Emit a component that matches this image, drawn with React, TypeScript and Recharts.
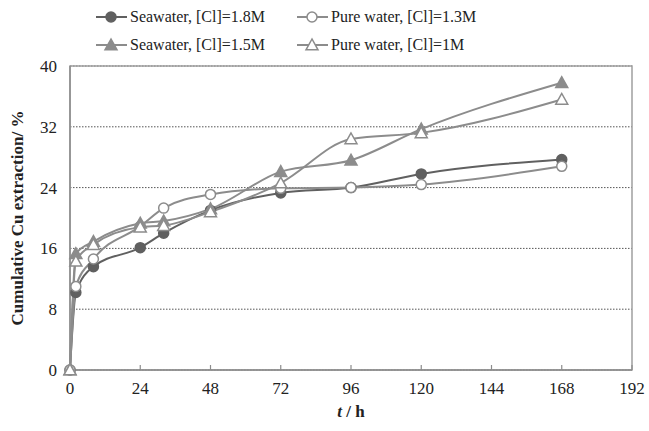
import React from "react";
import {
  LineChart,
  Line,
  XAxis,
  YAxis,
  CartesianGrid,
  ReferenceArea,
} from "recharts";

// time in hours
const hours = [0, 2, 8, 24, 32, 48, 72, 96, 120, 168];
// cumulative Cu extraction, %
const seawater18 = [0, 10.2, 13.6, 16.1, 18.0, 21.0, 23.3, 24.0, 25.8, 27.7];
const pure13 = [0, 11.0, 14.6, 18.9, 21.3, 23.1, 23.9, 24.0, 24.4, 26.8];
const seawater15 = [0, 15.3, 16.9, 19.3, 19.6, 21.2, 26.1, 27.6, 31.7, 37.8];
const pure10 = [0, 14.3, 16.5, 18.8, 19.0, 20.8, 24.6, 30.4, 31.2, 35.6];

const xTicks = [0, 24, 48, 72, 96, 120, 144, 168, 192];
const yTicks = [0, 8, 16, 24, 32, 40];

const DARK = "#606060";
const LIGHT = "#8c8c8c";
const FONT = "'Liberation Serif', 'Times New Roman', serif";

const rows = hours.map((t, i) => ({
  t,
  s18: seawater18[i],
  p13: pure13[i],
  s15: seawater15[i],
  p10: pure10[i],
}));

type Shape = "circle" | "triangle";

function Marker({ cx, cy, shape, color, filled }: any) {
  if (cx == null || cy == null) return null;
  const fill = filled ? color : "#ffffff";
  if (shape === "circle") {
    return <circle cx={cx} cy={cy} r={5} fill={fill} stroke={color} strokeWidth={1.5} />;
  }
  const s = 6;
  const pts = `${cx},${cy - s} ${cx - s},${cy + s * 0.8} ${cx + s},${cy + s * 0.8}`;
  return <polygon points={pts} fill={fill} stroke={color} strokeWidth={1.5} />;
}

const dotFor = (shape: Shape, color: string, filled: boolean) => (props: any) => (
  <Marker key={`${props.dataKey}-${props.index}`} {...props} shape={shape} color={color} filled={filled} />
);

const series = [
  { key: "s18", name: "Seawater, [Cl]=1.8M", shape: "circle" as Shape, color: DARK, filled: true },
  { key: "p13", name: "Pure water, [Cl]=1.3M", shape: "circle" as Shape, color: LIGHT, filled: false },
  { key: "s15", name: "Seawater, [Cl]=1.5M", shape: "triangle" as Shape, color: LIGHT, filled: true },
  { key: "p10", name: "Pure water, [Cl]=1M", shape: "triangle" as Shape, color: LIGHT, filled: false },
];

function XTick({ x, y, payload }: any) {
  return (
    <g>
      {payload.value !== 0 && (
        <line x1={x} y1={y} x2={x} y2={y - 5} stroke="#8c8c8c" strokeWidth={1.2} />
      )}
      <text x={x} y={y + 24} textAnchor="middle" fontSize={17} fill="#222" fontFamily={FONT}>
        {payload.value}
      </text>
    </g>
  );
}

function LegendItem({ s, x, y }: any) {
  return (
    <div style={{ position: "absolute", left: x, top: y - 11, display: "flex", alignItems: "center" }}>
      <svg width={34} height={22}>
        <line x1={0} y1={11} x2={31} y2={11} stroke={s.color} strokeWidth={2} />
        <Marker cx={15} cy={11} shape={s.shape} color={s.color} filled={s.filled} />
      </svg>
      <span style={{ fontFamily: FONT, fontSize: 16, color: "#222", whiteSpace: "nowrap" }}>{s.name}</span>
    </div>
  );
}

export default function App() {
  return (
    <div style={{ position: "absolute", left: 0, top: 0, width: 649, height: 431, background: "#fff" }}>
      <LineChart
        width={649}
        height={431}
        data={rows}
        margin={{ top: 66, right: 17, bottom: 0, left: 0 }}
      >
        <CartesianGrid vertical={false} stroke="#555" strokeDasharray="1.5 1.5" />
        <ReferenceArea x1={0} x2={192} y1={0} y2={40} fill="none" stroke="#a0a0a0" strokeWidth={1.5} />
        <XAxis
          dataKey="t"
          type="number"
          domain={[0, 192]}
          ticks={xTicks}
          interval={0}
          height={61}
          tickSize={0}
          tickMargin={0}
          axisLine={{ stroke: "#8c8c8c", strokeWidth: 1.5 }}
          tickLine={false}
          tick={<XTick />}
          label={{
            content: ({ viewBox }: any) => (
              <text
                x={viewBox.x + viewBox.width / 2}
                y={viewBox.y + 47}
                textAnchor="middle"
                fontSize={17}
                fontWeight="bold"
                fill="#222"
                fontFamily={FONT}
              >
                <tspan fontStyle="italic">t</tspan>
                <tspan> / h</tspan>
              </text>
            ),
          }}
        />
        <YAxis
          type="number"
          domain={[0, 40]}
          ticks={yTicks}
          interval={0}
          width={70}
          tickSize={0}
          tickMargin={13}
          axisLine={{ stroke: "#8c8c8c", strokeWidth: 1.5 }}
          tickLine={false}
          tick={{ fontSize: 17, fill: "#222", fontFamily: FONT }}
          label={{
            content: ({ viewBox }: any) => {
              const cx = 17;
              const cy = viewBox.y + viewBox.height / 2;
              return (
                <text
                  x={cx}
                  y={cy}
                  transform={`rotate(-90, ${cx}, ${cy})`}
                  textAnchor="middle"
                  dominantBaseline="central"
                  fontSize={17}
                  fontWeight="bold"
                  fill="#222"
                  fontFamily={FONT}
                >
                  Cumulative Cu extraction/ %
                </text>
              );
            },
          }}
        />
        {series.map((s) => (
          <Line
            key={s.key}
            dataKey={s.key}
            name={s.name}
            type="monotone"
            stroke={s.color}
            strokeWidth={2}
            dot={dotFor(s.shape, s.color, s.filled)}
            activeDot={false}
            isAnimationActive={false}
          />
        ))}
      </LineChart>
      <LegendItem s={series[0]} x={96} y={17} />
      <LegendItem s={series[1]} x={297} y={17} />
      <LegendItem s={series[2]} x={96} y={45} />
      <LegendItem s={series[3]} x={297} y={45} />
    </div>
  );
}
